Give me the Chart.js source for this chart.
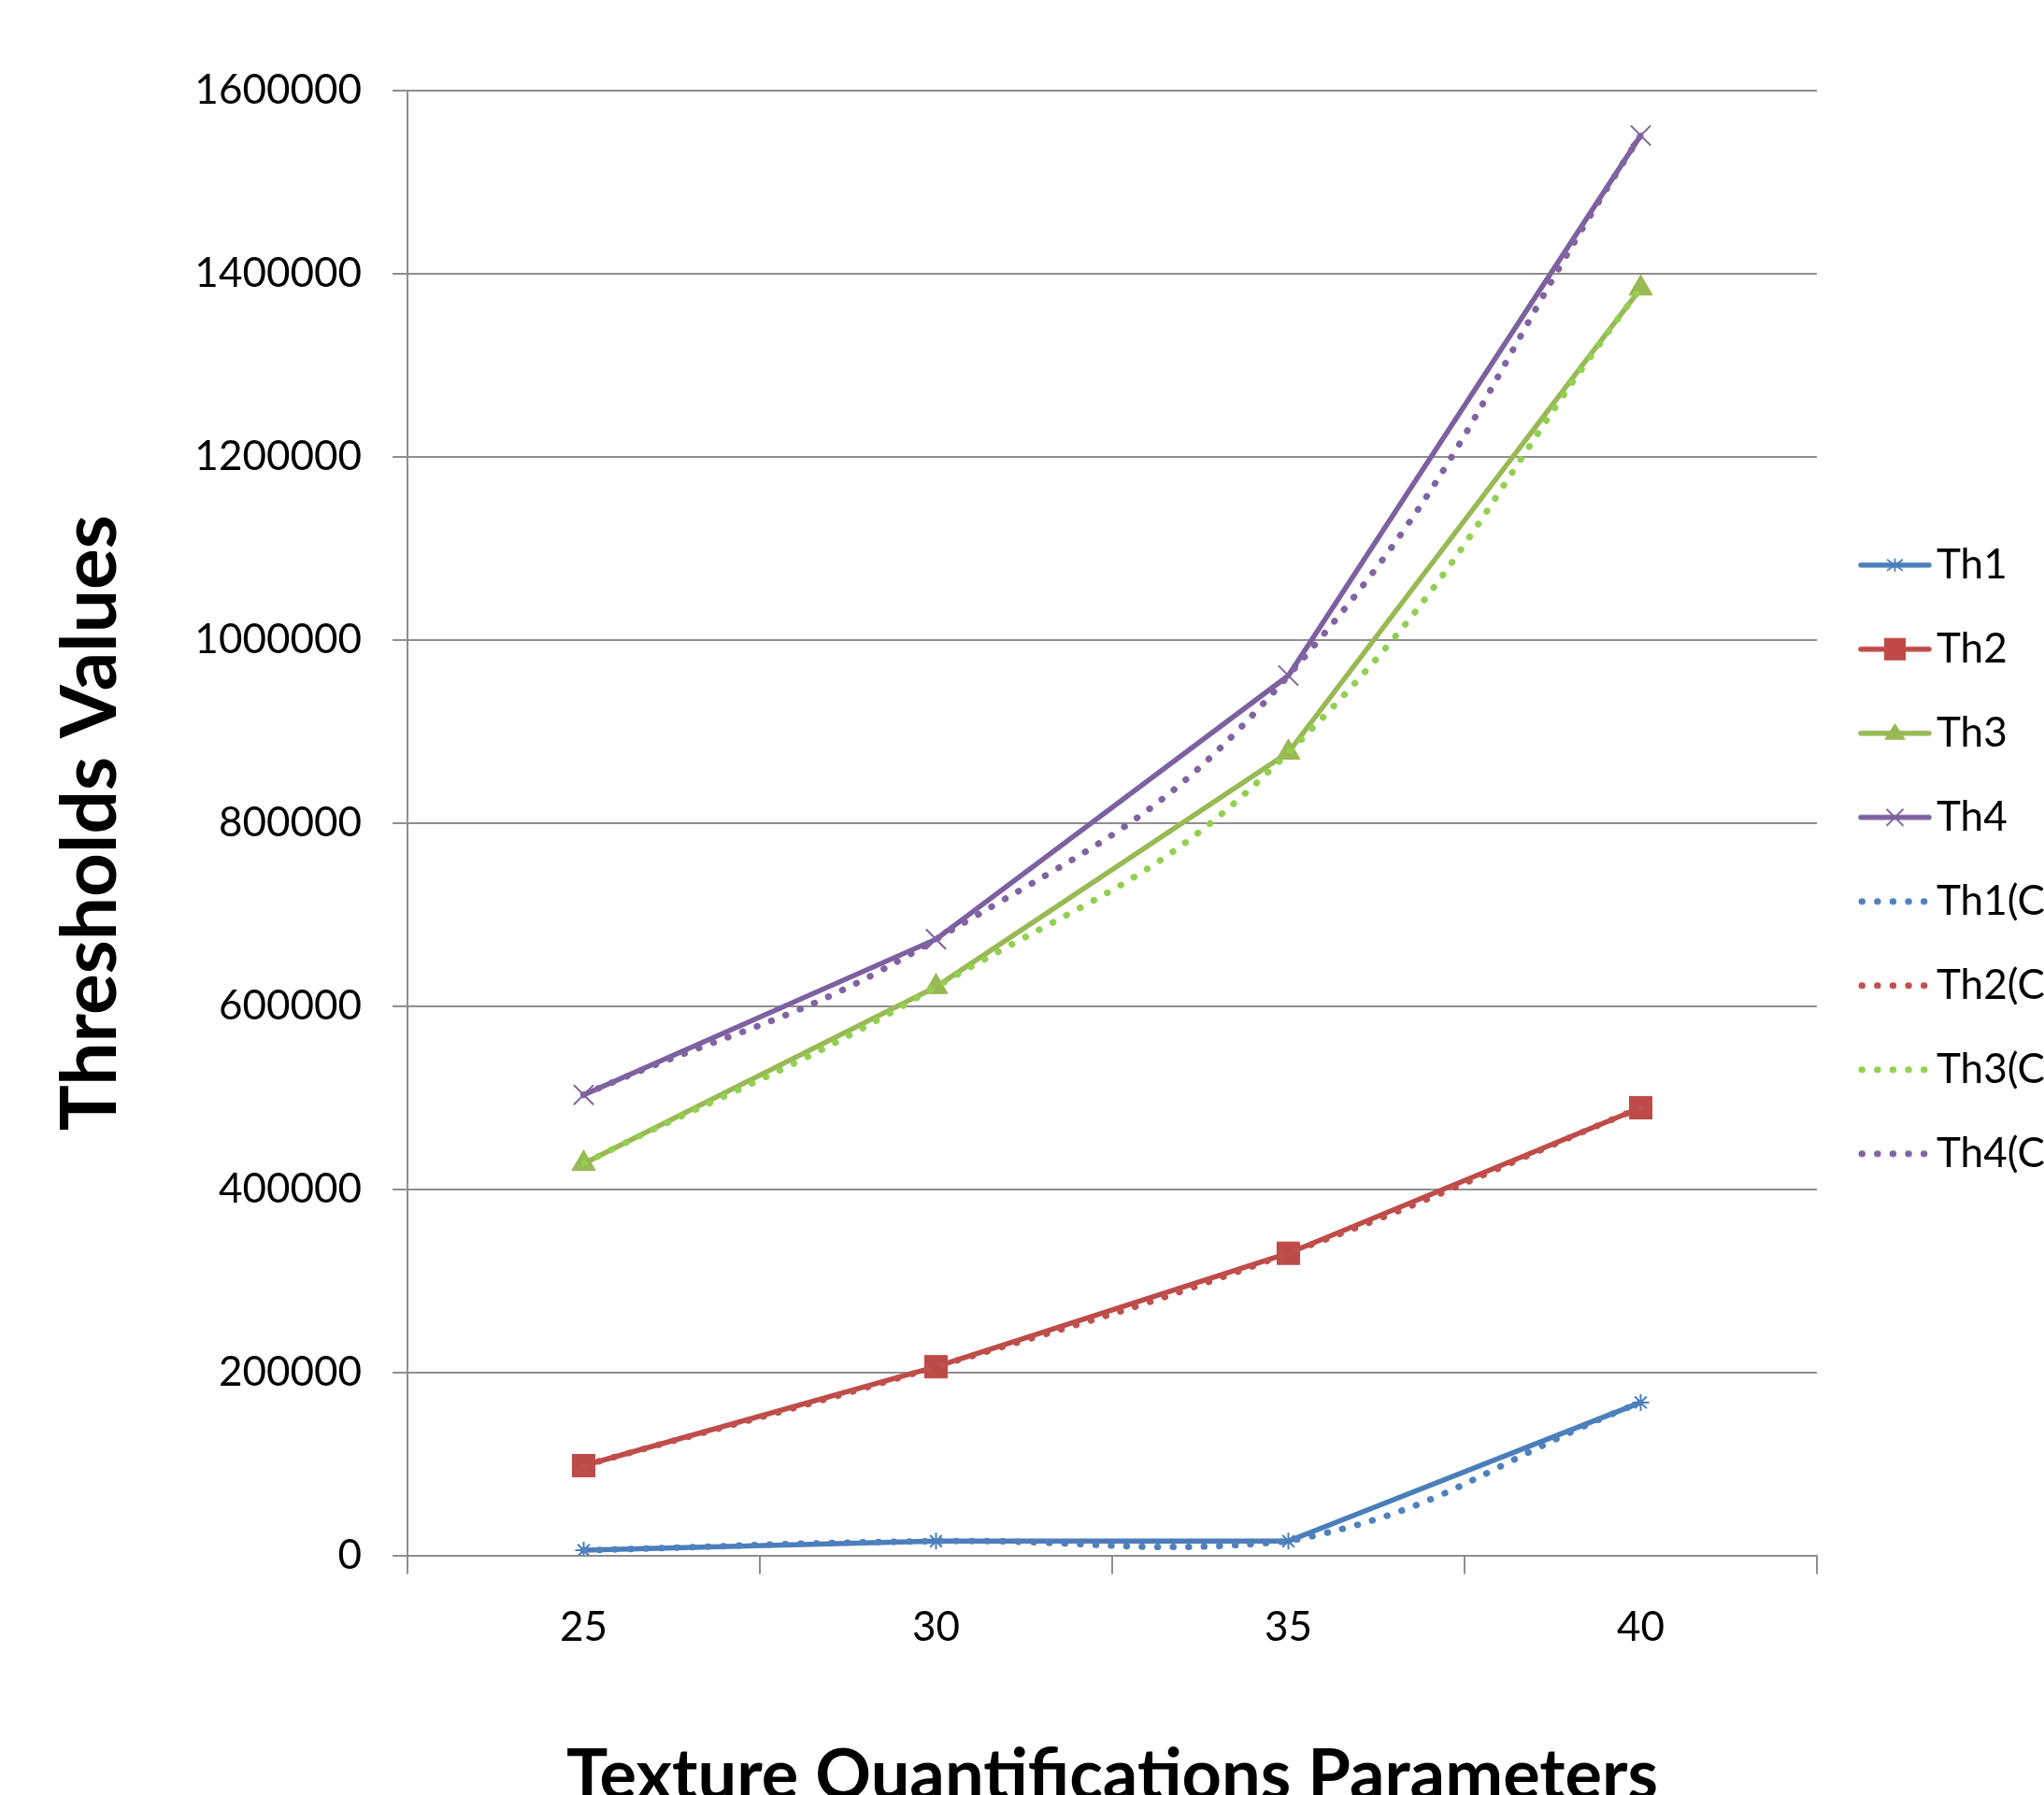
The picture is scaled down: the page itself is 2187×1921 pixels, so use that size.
<!DOCTYPE html>
<html>
<head>
<meta charset="utf-8">
<title>Thresholds Values</title>
<script src="https://cdn.jsdelivr.net/npm/chart.js@4.4.1/dist/chart.umd.min.js"></script>
<style>
  html, body { margin: 0; padding: 0; background: #ffffff; overflow: hidden; }
  #frame { width: 2187px; height: 1921px; overflow: hidden; position: relative; }
  canvas { display: block; }
</style>
</head>
<body>
<div id="frame"><canvas id="chart" width="2187" height="1990"></canvas></div>
<script>
// ---- data ----
const categories = ['25', '30', '35', '40'];

const th1 = [5500, 15500, 15500, 167000];
const th2 = [98000, 206000, 330000, 489000];
const th3 = [428000, 621000, 877000, 1384000];
const th4 = [503000, 673000, 961000, 1551000];

const th1C = [5500, 15500, 15500, 167000];
const th2C = [98000, 206000, 330000, 489000];
const th3C = [428000, 621000, 877000, 1384000];
const th4C = [503000, 673000, 961000, 1551000];

const seriesLabels = ['Th1', 'Th2', 'Th3', 'Th4', 'Th1(C', 'Th2(C', 'Th3(C', 'Th4(C'];
const yTickValues = [0, 200000, 400000, 600000, 800000, 1000000, 1200000, 1400000, 1600000];

const xTitle = 'Texture Quantifications Parameters';
const yTitle = 'Thresholds Values';

// ---- styling ----
const solidColors = ['#4A7EBB', '#BE4B48', '#98B954', '#7D60A0'];
const dottedColors = ['#4F81BD', '#C0504D', '#92D050', '#8064A2'];
const markerStyles = ['star', 'rect', 'triangle', 'crossRot'];
const markerRadius = [9, 17, 14.5, 15];
const markerBorder = [2, 1, 1, 2];
const axisGray = '#8e8e8e';
const FONT = 'Lato';

// legend glyphs: short line with the series marker, or a dotted line
function legendGlyph(color, style, dotted) {
  const c = document.createElement('canvas');
  c.width = 100; c.height = 36;
  const g = c.getContext('2d');
  const cy = 18;
  g.strokeStyle = color; g.fillStyle = color;
  if (dotted) {
    g.lineWidth = 7; g.lineCap = 'round';
    g.setLineDash([0.5, 16.1]);
    g.beginPath(); g.moveTo(22, cy); g.lineTo(89, cy); g.stroke();
    return c;
  }
  g.lineWidth = 5.5; g.lineCap = 'round';
  g.beginPath(); g.moveTo(21, cy); g.lineTo(94, cy); g.stroke();
  const mx = 57.5;
  g.setLineDash([]);
  if (style === 'rect') {
    g.fillRect(mx - 11.5, cy - 12, 23, 24);
  } else if (style === 'triangle') {
    g.beginPath();
    g.moveTo(mx, cy - 11); g.lineTo(mx + 11.5, cy + 7); g.lineTo(mx - 11.5, cy + 7);
    g.closePath(); g.fill();
  } else if (style === 'crossRot') {
    g.lineWidth = 1.8; g.lineCap = 'butt';
    g.beginPath();
    g.moveTo(mx - 9, cy - 9); g.lineTo(mx + 9, cy + 9);
    g.moveTo(mx + 9, cy - 9); g.lineTo(mx - 9, cy + 9);
    g.stroke();
  } else if (style === 'star') {
    g.lineWidth = 1.8; g.lineCap = 'butt';
    g.beginPath();
    g.moveTo(mx, cy - 7); g.lineTo(mx, cy + 7);
    g.moveTo(mx - 8.5, cy - 6); g.lineTo(mx + 8.5, cy + 6);
    g.moveTo(mx + 8.5, cy - 6); g.lineTo(mx - 8.5, cy + 6);
    g.stroke();
  }
  return c;
}

const glyphs = [
  legendGlyph(solidColors[0], markerStyles[0], false),
  legendGlyph(solidColors[1], markerStyles[1], false),
  legendGlyph(solidColors[2], markerStyles[2], false),
  legendGlyph(solidColors[3], markerStyles[3], false),
  legendGlyph(dottedColors[0], null, true),
  legendGlyph(dottedColors[1], null, true),
  legendGlyph(dottedColors[2], null, true),
  legendGlyph(dottedColors[3], null, true)
];

const solidData = [th1, th2, th3, th4];
const dottedData = [th1C, th2C, th3C, th4C];

const datasets = [];
solidData.forEach((d, i) => {
  datasets.push({
    label: seriesLabels[i],
    data: d,
    borderColor: solidColors[i],
    backgroundColor: solidColors[i],
    borderWidth: 5.5,
    borderCapStyle: 'round',
    tension: 0,
    pointStyle: markerStyles[i],
    pointRadius: markerRadius[i],
    pointBorderWidth: markerBorder[i],
    pointBackgroundColor: solidColors[i],
    pointBorderColor: solidColors[i],
    order: 1
  });
});
dottedData.forEach((d, i) => {
  datasets.push({
    label: seriesLabels[i + 4],
    data: d,
    borderColor: dottedColors[i],
    backgroundColor: dottedColors[i],
    borderWidth: 7,
    borderDash: [0.5, 16.1],
    borderCapStyle: 'round',
    tension: 0.45,
    pointRadius: 0,
    order: 0
  });
});

new Chart(document.getElementById('chart'), {
  type: 'line',
  data: { labels: categories, datasets: datasets },
  options: {
    responsive: false,
    animation: false,
    devicePixelRatio: 1,
    layout: { padding: { top: 97, left: 0, right: 0, bottom: 0 } },
    plugins: {
      tooltip: { enabled: false },
      legend: {
        position: 'right',
        fullSize: false,
        maxWidth: 243,
        title: { display: true, text: '', padding: 0, font: { size: 78, lineHeight: 1 } },
        labels: {
          usePointStyle: true,
          pointStyleWidth: 60,
          padding: 46,
          color: '#000000',
          font: { family: FONT, size: 44 },
          sort: (a, b) => a.datasetIndex - b.datasetIndex,
          generateLabels(chart) {
            const items = Chart.defaults.plugins.legend.labels.generateLabels(chart);
            items.forEach(it => { it.pointStyle = glyphs[it.datasetIndex]; it.lineWidth = 0; });
            return items;
          }
        }
      }
    },
    scales: {
      x: {
        type: 'category',
        offset: true,
        afterFit(scale) { scale.height = 325.5; },
        grid: { offset: true, drawOnChartArea: false, drawTicks: true, tickLength: 20, color: axisGray, lineWidth: 2 },
        border: { display: true, color: axisGray, width: 2 },
        ticks: { color: '#000000', font: { family: FONT, size: 44 }, padding: 31, maxRotation: 0 },
        title: {
          display: true, text: xTitle, color: '#000000',
          font: { family: FONT, size: 74, weight: 'bold' },
          padding: { top: 0, bottom: 44 }
        }
      },
      y: {
        type: 'linear',
        min: 0,
        max: 1600000,
        afterFit(scale) { scale.width = 436; },
        afterBuildTicks(scale) { scale.ticks = yTickValues.map(v => ({ value: v })); },
        grid: { color: axisGray, lineWidth: 2, tickLength: 16 },
        border: { display: true, color: axisGray, width: 2 },
        ticks: { color: '#000000', font: { family: FONT, size: 44 }, padding: 33, callback: v => String(v) },
        title: {
          display: true, text: yTitle, color: '#000000',
          font: { family: FONT, size: 82, weight: 'bold' },
          padding: { top: 48, bottom: 0 }
        }
      }
    }
  }
});
</script>
</body>
</html>
